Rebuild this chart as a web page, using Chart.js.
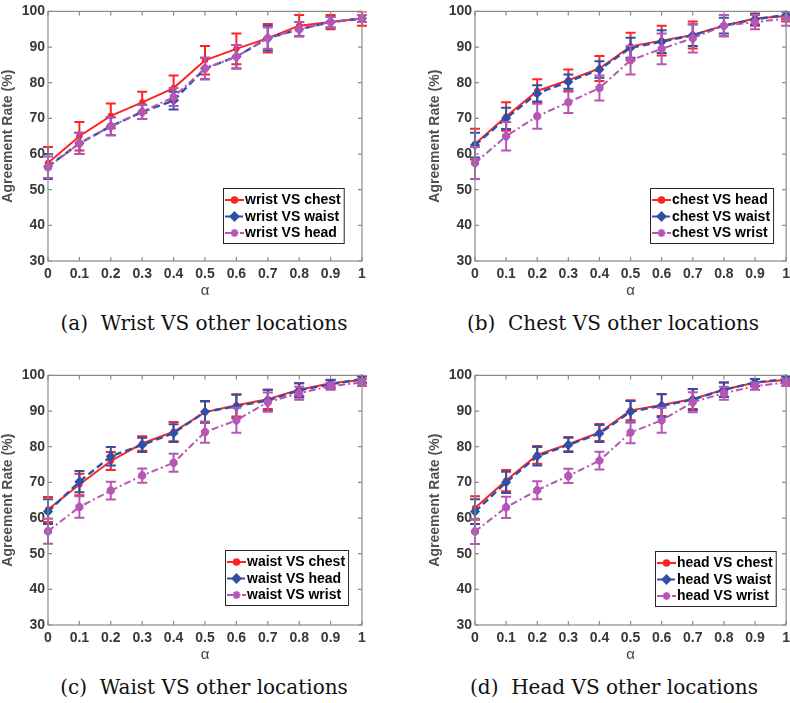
<!DOCTYPE html>
<html><head><meta charset="utf-8">
<script src="https://cdn.jsdelivr.net/npm/chart.js@4.4.1/dist/chart.umd.min.js"></script>
<style>
body{margin:0;background:#fff;width:790px;height:703px;position:relative;overflow:hidden}
.p{position:absolute}
.p canvas{display:block}
.cap{position:absolute;width:420px;text-align:center;font-family:"DejaVu Serif",serif;font-size:20px;line-height:24px;color:#111;white-space:nowrap}
</style></head><body>
<div class="p" style="left:0;top:0"><canvas id="ca" width="375" height="300"></canvas></div>
<div class="p" style="left:427px;top:0"><canvas id="cb" width="368" height="300"></canvas></div>
<div class="p" style="left:0;top:364px"><canvas id="cc" width="375" height="300"></canvas></div>
<div class="p" style="left:427px;top:364px"><canvas id="cd" width="368" height="300"></canvas></div>
<div class="cap" style="left:-6px;top:311px">(a)&nbsp; Wrist VS other locations</div>
<div class="cap" style="left:403px;top:311px">(b)&nbsp; Chest VS other locations</div>
<div class="cap" style="left:-6px;top:675px">(c)&nbsp; Waist VS other locations</div>
<div class="cap" style="left:404px;top:675px">(d)&nbsp; Head VS other locations</div>
<script>
// ---- data ----
const alphaLabels = ['0','0.1','0.2','0.3','0.4','0.5','0.6','0.7','0.8','0.9','1'];
const yTickMin = 30, yTickMax = 100, yTickStep = 10;

// (a) wrist
const wristChest    = [57.5, 65.0, 70.7, 74.5, 78.5, 86.3, 89.5, 92.5, 96.0, 97.0, 98.0];
const wristChestErr = [4.5, 4.0, 3.5, 3.0, 3.5, 4.0, 4.3, 4.0, 3.0, 2.0, 2.0];
const wristWaist    = [56.5, 63.0, 67.8, 71.8, 75.0, 84.0, 87.3, 92.5, 95.0, 97.0, 98.0];
const wristWaistErr = [3.5, 3.0, 2.5, 2.0, 2.5, 3.0, 3.3, 3.5, 2.0, 1.5, 1.0];
const wristHead     = [56.3, 63.0, 67.8, 71.8, 76.0, 84.0, 87.3, 92.5, 95.0, 97.0, 98.0];
const wristHeadErr  = [3.0, 3.0, 2.5, 2.0, 2.5, 3.0, 3.3, 3.0, 2.0, 1.5, 1.0];

// (b) chest
const chestHead     = [62.8, 70.5, 77.7, 80.7, 84.0, 90.2, 91.8, 93.4, 96.0, 98.0, 98.7];
const chestHeadErr  = [4.3, 4.0, 3.3, 3.0, 3.5, 3.8, 4.2, 3.8, 3.0, 2.0, 1.5];
const chestWaist    = [62.5, 70.0, 77.0, 80.3, 83.7, 89.8, 91.5, 93.3, 96.0, 97.8, 99.0];
const chestWaistErr = [3.5, 3.0, 2.3, 2.0, 2.3, 2.8, 3.2, 3.0, 2.2, 1.5, 1.0];
const chestWrist    = [57.5, 65.0, 70.6, 74.5, 78.5, 86.3, 89.5, 92.5, 96.0, 97.0, 98.0];
const chestWristErr = [4.5, 4.0, 3.5, 3.0, 3.5, 4.0, 4.3, 4.0, 3.0, 2.0, 2.0];

// (c) waist
const waistChest    = [62.4, 69.4, 76.0, 80.9, 84.2, 89.7, 91.6, 93.3, 96.0, 97.8, 98.7];
const waistChestErr = [3.5, 3.0, 2.5, 2.0, 2.7, 3.0, 3.1, 2.7, 1.8, 1.0, 1.0];
const waistHead     = [61.8, 70.2, 77.3, 80.5, 83.8, 89.8, 91.3, 93.0, 95.8, 97.5, 99.0];
const waistHeadErr  = [3.5, 3.0, 2.6, 2.0, 2.5, 3.0, 3.3, 3.0, 2.0, 1.2, 1.0];
const waistWrist    = [56.3, 63.1, 67.7, 71.9, 75.5, 84.1, 87.4, 92.5, 95.0, 97.0, 98.0];
const waistWristErr = [3.5, 3.0, 2.5, 2.0, 2.5, 3.0, 3.5, 2.7, 1.8, 1.0, 1.0];

// (d) head
const headChest     = [62.8, 70.5, 77.7, 80.7, 84.0, 90.2, 91.7, 93.4, 96.0, 98.0, 98.7];
const headChestErr  = [3.3, 3.0, 2.5, 2.0, 2.4, 2.8, 3.1, 2.8, 2.0, 1.0, 1.0];
const headWaist     = [61.8, 70.0, 77.3, 80.5, 83.7, 89.8, 91.5, 93.2, 96.0, 98.0, 99.0];
const headWaistErr  = [3.5, 3.0, 2.6, 2.0, 2.4, 3.0, 3.2, 3.0, 2.0, 1.0, 0.8];
const headWrist     = [56.2, 63.0, 67.8, 71.8, 76.1, 84.0, 87.4, 92.5, 95.0, 97.0, 98.0];
const headWristErr  = [3.5, 3.0, 2.5, 2.0, 2.5, 3.0, 3.5, 2.8, 1.8, 1.0, 1.0];

// ---- styles ----
const RED = '#ff2424', BLUE = '#3050a6', MAG = '#b556b5';
const styles = [
  {color: RED,  dash: [],            width: 2,   pointStyle: 'circle',  radius: 2.8, pbw: 1, order: 3},
  {color: BLUE, dash: [7, 4],        width: 2.4, pointStyle: 'rectRot', radius: 4, pbw: 1.5, order: 2},
  {color: MAG,  dash: [7, 3, 2, 3],  width: 2,   pointStyle: 'star',    radius: 4, pbw: 4, order: 1}
];
const TICK_COLOR = '#383838';
const FONT = '"Liberation Sans", Arial, sans-serif';

const matlabBox = {
  id: 'matlabBox',
  beforeDatasetDraw(chart, args) {
    const ds = chart.data.datasets[args.index];
    if (!ds.errors) return;
    const ctx = chart.ctx, x = chart.scales.x, y = chart.scales.y, ca = chart.chartArea;
    ctx.save();
    ctx.beginPath();
    ctx.rect(ca.left - 12, ca.top, ca.right - ca.left + 24, ca.bottom - ca.top);
    ctx.clip();
    ctx.strokeStyle = ds.borderColor;
    ctx.lineWidth = 2;
    ctx.setLineDash([]);
    ds.data.forEach((v, i) => {
      const px = x.getPixelForValue(i);
      const t = y.getPixelForValue(v + ds.errors[i]);
      const b = y.getPixelForValue(v - ds.errors[i]);
      ctx.beginPath();
      ctx.moveTo(px, t); ctx.lineTo(px, b);
      ctx.moveTo(px - 5, t); ctx.lineTo(px + 5, t);
      ctx.moveTo(px - 5, b); ctx.lineTo(px + 5, b);
      ctx.stroke();
    });
    ctx.restore();
  },
  afterDraw(chart, args, opts) {
    const ctx = chart.ctx, x = chart.scales.x, y = chart.scales.y, ca = chart.chartArea;
    ctx.save();
    ctx.strokeStyle = '#8a8a8a';
    ctx.lineWidth = 1.2;
    ctx.setLineDash([]);
    ctx.strokeRect(ca.left, ca.top, ca.right - ca.left, ca.bottom - ca.top);
    ctx.beginPath();
    x.ticks.forEach((tk, i) => {
      const px = x.getPixelForTick(i);
      ctx.moveTo(px, ca.bottom); ctx.lineTo(px, ca.bottom - 4);
      ctx.moveTo(px, ca.top); ctx.lineTo(px, ca.top + 4);
    });
    y.ticks.forEach((tk, i) => {
      const py = y.getPixelForTick(i);
      ctx.moveTo(ca.left, py); ctx.lineTo(ca.left + 4, py);
      ctx.moveTo(ca.right, py); ctx.lineTo(ca.right - 4, py);
    });
    ctx.stroke();

    // legend
    const dsets = chart.data.datasets;
    ctx.font = 'bold 14px ' + FONT;
    const tw = Math.max(...dsets.map(d => ctx.measureText(d.label).width));
    const w = 22 + tw + 3, h = 55;
    const bx = Math.round(ca.right - opts.right - w), by = Math.round(ca.bottom - opts.bottom - h);
    ctx.fillStyle = '#fff';
    ctx.fillRect(bx, by, w, h);
    ctx.strokeStyle = '#262626';
    ctx.lineWidth = 1;
    ctx.strokeRect(bx + 0.5, by + 0.5, w, h);
    dsets.forEach((d, i) => {
      const cy = by + 12 + i * 16.5;
      ctx.strokeStyle = d.borderColor;
      ctx.lineWidth = 2;
      ctx.setLineDash(d.borderDash || []);
      ctx.beginPath(); ctx.moveTo(bx + 2, cy); ctx.lineTo(bx + 21, cy); ctx.stroke();
      ctx.setLineDash([]);
      ctx.fillStyle = d.pointBackgroundColor;
      ctx.strokeStyle = d.pointBorderColor;
      Chart.helpers.drawPoint(ctx, {pointStyle: d.pointStyle, radius: d.pointRadius, rotation: 0, borderWidth: d.pointBorderWidth}, bx + 11.5, cy);
      ctx.fillStyle = '#000';
      ctx.textBaseline = 'middle';
      ctx.textAlign = 'left';
      ctx.font = 'bold 14px ' + FONT;
      ctx.fillText(d.label, bx + 22, cy + 0.5);
    });
    ctx.restore();
  }
};

function makeChart(id, names, values, errors, padRight, legRight, legBottom) {
  const datasets = names.map((n, i) => {
    const s = styles[i];
    return {
      label: n,
      data: values[i],
      errors: errors[i],
      borderColor: s.color,
      backgroundColor: s.color,
      borderWidth: s.width,
      borderDash: s.dash,
      pointStyle: s.pointStyle,
      pointRadius: s.radius,
      pointBackgroundColor: s.color,
      pointBorderColor: s.color,
      pointBorderWidth: s.pbw,
      tension: 0,
      fill: false,
      clip: 8,
      order: s.order
    };
  });
  new Chart(document.getElementById(id), {
    type: 'line',
    data: {labels: alphaLabels, datasets},
    plugins: [matlabBox],
    options: {
      responsive: false,
      animation: false,
      devicePixelRatio: 1,
      layout: {padding: {top: 9, right: padRight, left: 0, bottom: 0}},
      plugins: {
        legend: {display: false},
        tooltip: {enabled: false},
        matlabBox: {right: legRight, bottom: legBottom}
      },
      scales: {
        x: {
          type: 'category',
          offset: false,
          grid: {display: false, drawTicks: false},
          border: {display: false},
          ticks: {color: TICK_COLOR, font: {family: FONT, size: 14, weight: 'bold'}, padding: 5, maxRotation: 0, autoSkip: false},
          title: {display: true, text: 'α', color: '#444', font: {family: FONT, size: 15}, padding: 0},
          afterFit(s) { s.height = 39; }
        },
        y: {
          min: yTickMin, max: yTickMax,
          grid: {display: false, drawTicks: false},
          border: {display: false},
          ticks: {stepSize: yTickStep, color: TICK_COLOR, font: {family: FONT, size: 14, weight: 'bold'}, padding: 3},
          title: {display: true, text: 'Agreement Rate (%)', color: '#505050', font: {family: FONT, size: 14, weight: 'bold'}, padding: {top: 0, bottom: 4}},
          afterFit(s) { s.width = 48; }
        }
      }
    }
  });
}

makeChart('ca', ['wrist VS chest', 'wrist VS waist', 'wrist VS head'],
  [wristChest, wristWaist, wristHead], [wristChestErr, wristWaistErr, wristHeadErr], 13, 18, 18);
makeChart('cb', ['chest VS head', 'chest VS waist', 'chest VS wrist'],
  [chestHead, chestWaist, chestWrist], [chestHeadErr, chestWaistErr, chestWristErr], 8, 13, 18);
makeChart('cc', ['waist VS chest', 'waist VS head', 'waist VS wrist'],
  [waistChest, waistHead, waistWrist], [waistChestErr, waistHeadErr, waistWristErr], 13, 14, 20);
makeChart('cd', ['head VS chest', 'head VS waist', 'head VS wrist'],
  [headChest, headWaist, headWrist], [headChestErr, headWaistErr, headWristErr], 8, 10, 19);
</script>
</body></html>
